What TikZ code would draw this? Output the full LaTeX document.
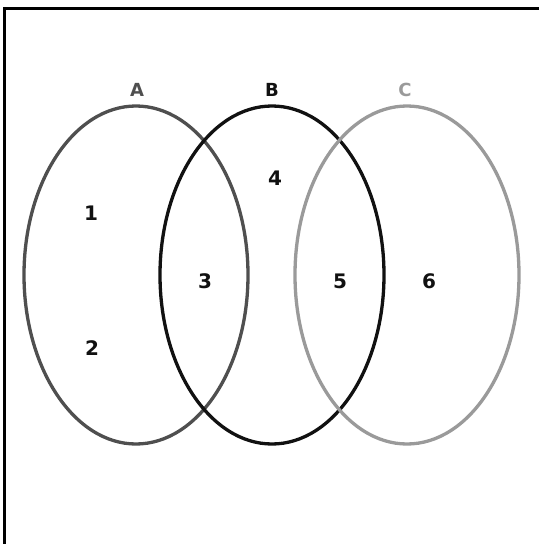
\documentclass[tikz,border=0pt]{standalone}
\usepackage{fontspec}
\setmainfont{DejaVu Sans}
\usetikzlibrary{shapes.geometric}
\definecolor{cA}{HTML}{4F4F4F}
\definecolor{cB}{HTML}{111111}
\definecolor{cC}{HTML}{9A9A9A}
\tikzset{
  setring/.style={ellipse, draw, line width=3.3pt, inner sep=0pt, minimum width=224pt, minimum height=338pt},
  setname/.style={font=\bfseries\fontsize{18}{18}\selectfont, inner sep=0pt},
  region/.style={font=\bfseries\fontsize{20}{20}\selectfont, inner sep=0pt, text=cB},
}
\begin{document}
\begin{tikzpicture}[x=1pt,y=-1pt]
\useasboundingbox (0,0) rectangle (539,544);
\fill[white] (0,0) rectangle (539,544);
\coordinate (tl) at (4,8);
\coordinate (tr) at (539,8);
\coordinate (bl) at (4,544);
\draw[line width=3pt, black] (tr) -- (tl) -- (bl);
\node[setring, draw=cA] (A) at (136,275) {};
\node[setring, draw=cB] (B) at (272,275) {};
\node[setring, draw=cC] (C) at (407,275) {};
\node[setname, text=cA] (la) at (137,90) {A};
\node[setname, text=cB] (lb) at (272,90) {B};
\node[setname, text=cC] (lc) at (405,90) {C};
\node[region] (r1) at (91,213) {1};
\node[region] (r2) at (92,348) {2};
\node[region] (r3) at (205,281) {3};
\node[region] (r4) at (275,178) {4};
\node[region] (r5) at (340,281) {5};
\node[region] (r6) at (429,281) {6};
\end{tikzpicture}
\end{document}
